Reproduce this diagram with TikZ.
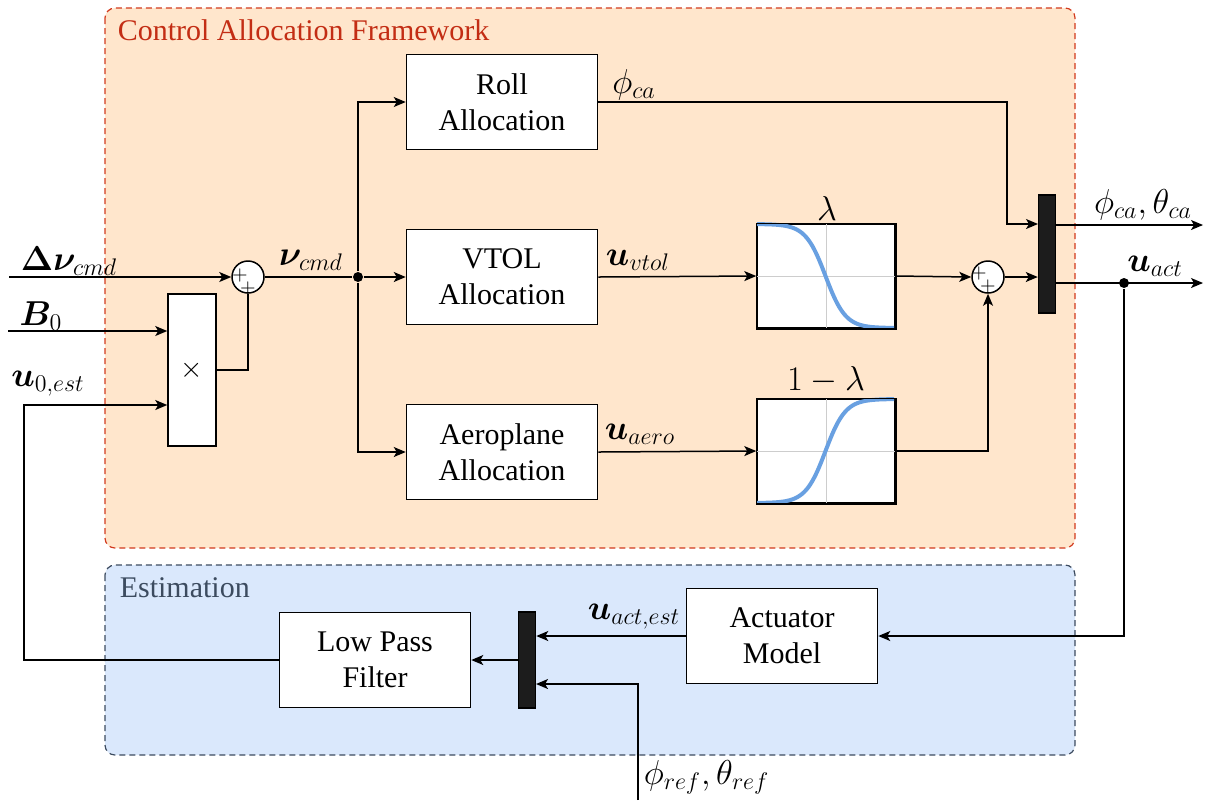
\documentclass[tikz,border=0pt]{standalone}
\usepackage{amsmath,bm}
\usepackage[no-math]{fontspec}
\setmainfont{Liberation Serif}
\usetikzlibrary{arrows.meta,calc}
\definecolor{cafill}{RGB}{255,230,204}
\definecolor{cadraw}{RGB}{210,58,30}
\definecolor{catext}{RGB}{195,45,20}
\definecolor{esfill}{RGB}{218,232,252}
\definecolor{esdraw}{RGB}{60,75,95}
\definecolor{estext}{RGB}{60,75,95}
\definecolor{curvec}{RGB}{105,160,225}
\definecolor{gridc}{RGB}{205,205,205}
\definecolor{barc}{RGB}{28,28,28}
\begin{document}
\begin{tikzpicture}[x=0.5pt,y=-0.5pt,
  font=\fontsize{15}{18}\selectfont,
  >={Stealth[length=6pt,width=5pt,inset=1.5pt]},
  line width=0.75pt,
  blockbox/.style={draw, fill=white, minimum width=95.5pt, minimum height=47.5pt, align=center, inner sep=0pt},
  multbox/.style={draw, fill=white, minimum width=24pt, minimum height=76pt, inner sep=0pt},
  sumc/.style={draw, circle, fill=white, minimum size=16pt, inner sep=0pt},
  jdot/.style={fill, circle, minimum size=5pt, inner sep=0pt},
  plotbox/.style={draw, fill=white, minimum width=69pt, minimum height=52pt, inner sep=0pt},
  muxbar/.style={draw, fill=barc, minimum width=8.5pt, minimum height=59pt, inner sep=0pt},
  muxbarb/.style={draw, fill=barc, minimum width=8.5pt, minimum height=48pt, inner sep=0pt},
  framedash/.style={dash pattern=on 3pt off 2pt, rounded corners=5pt, line width=0.6pt},
  ttl/.style={inner sep=0pt},
  lbl/.style={inner sep=0pt, font=\fontsize{16.5}{20}\selectfont},
  plus/.style={inner sep=0pt, font=\fontsize{10}{10}\selectfont},
  sig/.style={draw=curvec, line width=2pt},
  gridl/.style={draw=gridc, line width=0.5pt}
]
\useasboundingbox (0,0) rectangle (1208,800);
% frames
\draw[framedash, draw=cadraw, fill=cafill] (105,8) rectangle (1075,548);
\draw[framedash, draw=esdraw, fill=esfill] (105,565) rectangle (1075,755);
\node[ttl, anchor=west, text=catext] (catitle) at (117,30) {Control Allocation Framework};
\node[ttl, anchor=west, text=estext] (estitle) at (119,588) {Estimation};

% blocks
\node[blockbox] (roll) at (502,102) {Roll\\Allocation};
\node[blockbox] (vtol) at (502,277) {VTOL\\Allocation};
\node[blockbox] (aero) at (502,452) {Aeroplane\\Allocation};
\node[multbox] (mult) at (192,370) {$\times$};
\node[sumc] (sum1) at (248,277) {};
\node[plus] (p1a) at (240,275) {$+$};
\node[plus] (p1b) at (248,288) {$+$};
\node[jdot] (j1) at (358,277) {};

\node[plotbox] (lam) at (826,276) {};
\draw[gridl] (lam.north) -- (lam.south);
\draw[gridl] (lam.west) -- (lam.east);
\draw[sig] plot[domain=0:137, samples=80, smooth] ({757+\x},{224+104/(1+exp(-(\x-68.5)/10))});
\draw (lam.south west) rectangle (lam.north east);
\node[lbl] (laml) at (827,208) {$\lambda$};

\node[plotbox] (olam) at (826,451) {};
\draw[gridl] (olam.north) -- (olam.south);
\draw[gridl] (olam.west) -- (olam.east);
\draw[sig] plot[domain=0:137, samples=80, smooth] ({757+\x},{399+104/(1+exp((\x-68.5)/10))});
\draw (olam.south west) rectangle (olam.north east);
\node[lbl] (olaml) at (826,380) {$1-\lambda$};

\node[sumc] (sum2) at (988,277) {};
\node[plus] (p2a) at (979,273) {$+$};
\node[plus] (p2b) at (988,286) {$+$};
\node[muxbar] (mux1) at (1047,254) {};
\node[jdot] (j2) at (1124,283) {};

\node[blockbox] (act) at (782,636) {Actuator\\Model};
\node[muxbarb] (mux2) at (527,660) {};
\node[blockbox] (lpf) at (375,660) {Low Pass\\Filter};

% coordinates
\coordinate (in1) at (9,277);
\coordinate (in2) at (8,331);
\coordinate (rc) at (1007,102);
\coordinate (m1a) at (1038,224);
\coordinate (out1) at (1203,225);
\coordinate (out2) at (1203,283);
\coordinate (ref) at (638,800);
\coordinate (m2b) at (536,684);
\coordinate (fb) at (24,405);

% connectors
\draw[->] (in1) -- (sum1.west);
\draw[->] (in2) -- (mult.west |- in2);
\draw (mult.east) -| (sum1.south);
\draw (sum1.east) -- (j1);
\draw[->] (j1) -- (vtol.west);
\draw[->] (j1) |- (roll.west);
\draw[->] (j1) |- (aero.west);
\draw[->] (vtol.east) -- (lam.west);
\draw[->] (aero.east) -- (olam.west);
\draw[->] (lam.east) -- (sum2.west);
\draw[->] (olam.east) -| (sum2.south);
\draw[->] (roll.east) -- (rc) |- (m1a);
\draw[->] (sum2.east) -- (sum2.east -| mux1.west);
\draw[->] (mux1.east |- out1) -- (out1);
\draw[->] (mux1.east |- out2) -- (out2);
\draw[->] (j2) |- (act.east);
\draw[->] (act.west) -- (act.west -| mux2.east);
\draw[->] (ref) |- (m2b);
\draw[->] (mux2.west) -- (lpf.east);
\draw[->] (lpf.west) -| (fb) -- (mult.west |- fb);

% labels
\node[lbl] (ldnu) at (69,261) {$\bm{\Delta\nu}_{cmd}$};
\node[lbl] (lb0) at (41,316) {$\bm{B}_0$};
\node[lbl] (lu0) at (48,384) {$\bm{u}_{0,est}$};
\node[lbl] (lnu) at (311,260) {$\bm{\nu}_{cmd}$};
\node[lbl] (lphi) at (634,85) {$\phi_{ca}$};
\node[lbl] (luv) at (638,260) {$\bm{u}_{vtol}$};
\node[lbl] (lua) at (640,434) {$\bm{u}_{aero}$};
\node[lbl] (lout1) at (1143,205) {$\phi_{ca},\theta_{ca}$};
\node[lbl] (lout2) at (1155,266) {$\bm{u}_{act}$};
\node[lbl] (luest) at (634,617) {$\bm{u}_{act,est}$};
\node[lbl, anchor=west] (lref) at (643,777) {$\phi_{ref},\theta_{ref}$};
\end{tikzpicture}
\end{document}
